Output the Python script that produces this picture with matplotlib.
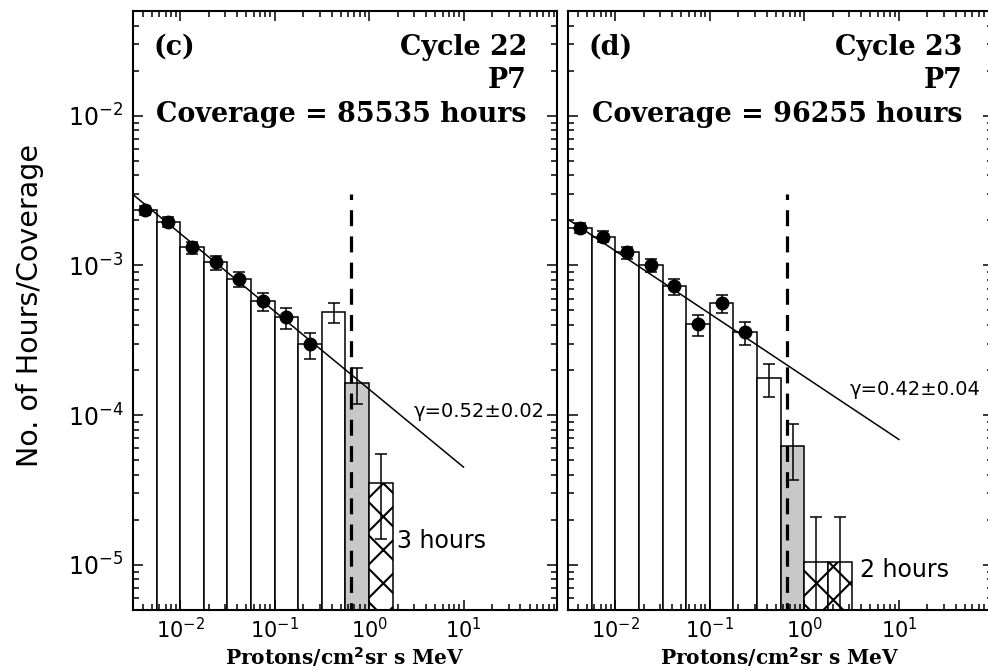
import numpy as np
import matplotlib.pyplot as plt
from matplotlib.ticker import LogLocator, NullFormatter

# log10 bin edges of the flux histogram (Protons/cm2 sr s MeV)
edges_c = [-2.5, -2.25, -2.0, -1.75, -1.5, -1.25, -1.0, -0.75, -0.5, -0.25, 0.0, 0.25]
edges_d = [-2.5, -2.25, -2.0, -1.75, -1.5, -1.25, -1.0, -0.75, -0.5, -0.25, 0.0, 0.25, 0.5]

# No. of hours / coverage in each bin
freq_c = [2.33e-3, 1.96e-3, 1.32e-3, 1.05e-3, 8.1e-4, 5.75e-4, 4.5e-4, 2.97e-4,
          4.86e-4, 1.63e-4, 3.5e-5]
freq_d = [1.79e-3, 1.56e-3, 1.22e-3, 1.0e-3, 7.24e-4, 4.04e-4, 5.58e-4, 3.57e-4,
          1.76e-4, 6.2e-5, 1.04e-5, 1.04e-5]
err_c = [1.65e-4, 1.52e-4, 1.24e-4, 1.11e-4, 9.7e-5, 8.2e-5, 7.3e-5, 5.9e-5,
         7.5e-5, 4.4e-5, 2.0e-5]
err_d = [1.36e-4, 1.27e-4, 1.12e-4, 1.02e-4, 8.7e-5, 6.5e-5, 7.6e-5, 6.1e-5,
         4.3e-5, 2.5e-5, 1.04e-5, 1.04e-5]
# bin style: 'fit' (filled dot, used in fit), 'open', 'gray', 'hatch'
kind_c = ['fit'] * 8 + ['open', 'gray', 'hatch']
kind_d = ['fit'] * 8 + ['open', 'gray', 'hatch', 'hatch']

# power-law fits: y = norm * x^-gamma, drawn between fit_x
gamma_c, gamma_err_c, norm_c = 0.52, 0.02, 1.49e-4
gamma_d, gamma_err_d, norm_d = 0.42, 0.04, 1.81e-4
fit_x = [10 ** -2.5, 10.0]

cutoff = 0.65          # dashed threshold line
cutoff_top = 3.0e-3

panels = [
    dict(edges=edges_c, freq=freq_c, err=err_c, kind=kind_c, gamma=gamma_c,
         gerr=gamma_err_c, norm=norm_c, tag='(c)', cycle='Cycle 22',
         cover=85535, hours='3 hours', hx=0.623, hy=0.1035, gy=0.322),
    dict(edges=edges_d, freq=freq_d, err=err_d, kind=kind_d, gamma=gamma_d,
         gerr=gamma_err_d, norm=norm_d, tag='(d)', cycle='Cycle 23',
         cover=96255, hours='2 hours', hx=0.688, hy=0.055, gy=0.359),
]

fig = plt.figure(figsize=(9.88, 6.70), dpi=100)
plt.rcParams['hatch.linewidth'] = 1.5
positions = [[133 / 988, 60 / 670, 424 / 988, 599 / 670],
             [568 / 988, 60 / 670, 424.5 / 988, 599 / 670]]
floor = 1e-8
serif = dict(family='DejaVu Serif', weight='bold', fontsize=19.4)

for i, p in enumerate(panels):
    ax = fig.add_axes(positions[i])
    ax.set_xscale('log')
    ax.set_yscale('log')

    lo = 10 ** np.array(p['edges'][:-1])
    hi = 10 ** np.array(p['edges'][1:])
    mid = np.sqrt(lo * hi)
    freq = np.array(p['freq'])
    err = np.array(p['err'])
    kind = np.array(p['kind'])

    colors = ['#c8c8c8' if k == 'gray' else 'white' for k in kind]
    hatches = ['x' if k == 'hatch' else None for k in kind]
    ax.bar(lo, freq - floor, bottom=floor, width=hi - lo, align='edge',
           color=colors, edgecolor='black', linewidth=1.1, hatch=hatches,
           zorder=1)

    fitmask = kind == 'fit'
    err_lo = np.minimum(err, freq * 0.999)
    ax.errorbar(mid[~fitmask], freq[~fitmask],
                yerr=[err_lo[~fitmask], err[~fitmask]], fmt='none',
                ecolor='black', elinewidth=1.1, capsize=4, capthick=1.1,
                zorder=3)

    fx = np.array(fit_x)
    ax.plot(fx, p['norm'] * fx ** -p['gamma'], color='black', lw=1.1, zorder=2)

    ax.errorbar(mid[fitmask], freq[fitmask], yerr=err[fitmask], fmt='o',
                color='black', ms=9, elinewidth=1.1, capsize=4, capthick=1.1,
                zorder=4)

    ax.plot([cutoff, cutoff], [floor, cutoff_top], color='black', lw=2.3,
            dashes=(5.0, 3.2), zorder=5)

    ax.set_xlim(10 ** -2.5, 10 ** 1.99)
    ax.set_ylim(5e-6, 5e-2)
    ax.xaxis.set_major_locator(LogLocator(base=10, numticks=12))
    ax.xaxis.set_minor_locator(LogLocator(base=10, subs=np.arange(2, 10),
                                          numticks=12))
    ax.yaxis.set_major_locator(LogLocator(base=10, numticks=12))
    ax.yaxis.set_minor_locator(LogLocator(base=10, subs=np.arange(2, 10),
                                          numticks=12))
    ax.xaxis.set_minor_formatter(NullFormatter())
    ax.yaxis.set_minor_formatter(NullFormatter())
    ax.tick_params(which='both', direction='in', top=True, right=True,
                   width=1.1)
    ax.tick_params(which='major', length=7.5)
    ax.tick_params(which='minor', length=4)
    ax.tick_params(axis='x', labelsize=15, pad=5)
    ax.tick_params(axis='y', labelsize=17, pad=7)
    if i == 1:
        ax.tick_params(axis='y', labelleft=False)
    for s in ax.spines.values():
        s.set_linewidth(1.5)

    ax.set_xlabel('Protons/cm$^{\\mathbf{2}}$sr s MeV', family='DejaVu Serif',
                  weight='bold', fontsize=14.5)
    ax.xaxis.set_label_coords(0.5, -0.092)
    ax.xaxis.label.set_va('baseline')

    ax.text(0.049, 0.9265, p['tag'], transform=ax.transAxes, ha='left',
            va='baseline', **serif)
    ax.text(0.929, 0.9265, p['cycle'], transform=ax.transAxes, ha='right',
            va='baseline', **serif)
    ax.text(0.929, 0.8715, 'P7', transform=ax.transAxes, ha='right',
            va='baseline', **serif)
    ax.text(0.929, 0.8147, f"Coverage = {p['cover']} hours",
            transform=ax.transAxes, ha='right', va='baseline', **serif)
    ax.text(0.972, p['gy'], f"γ={p['gamma']:.2f}±{p['gerr']:.2f}",
            transform=ax.transAxes, ha='right', va='baseline', fontsize=14)
    ax.text(p['hx'], p['hy'], p['hours'], transform=ax.transAxes,
            ha='left', va='baseline', fontsize=17)

fig.text(30 / 988, 1 - 306 / 670, 'No. of Hours/Coverage', rotation=90,
         ha='center', va='center', fontsize=20.5)

fig.savefig('out.png', dpi=100)
